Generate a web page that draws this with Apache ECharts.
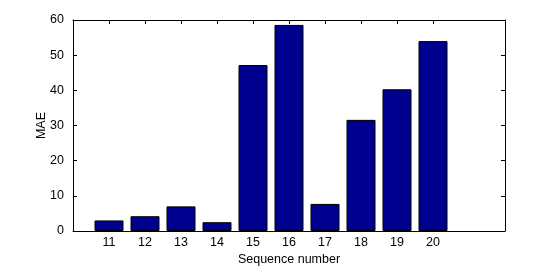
<!DOCTYPE html>
<html>
<head>
<meta charset="utf-8">
<script src="https://cdn.jsdelivr.net/npm/echarts@6/dist/echarts.min.js"></script>
<style>
  html, body { margin: 0; padding: 0; background: #fff; }
  #chart { width: 558px; height: 269px; }
</style>
</head>
<body>
<div id="chart"></div>
<script>
// sequence numbers on the x axis
const sequences = [11, 12, 13, 14, 15, 16, 17, 18, 19, 20];
// MAE per sequence
const maeValues = [3.0, 4.2, 7.0, 2.5, 47.2, 58.6, 7.7, 31.6, 40.3, 54.0];
const yTicks = [0, 10, 20, 30, 40, 50, 60];

const chart = echarts.init(document.getElementById('chart'), null, { renderer: 'canvas' });

const font = { fontFamily: 'Liberation Sans, Arial, sans-serif', fontSize: 12.5, color: '#000' };
const lineStyle = { color: '#000', width: 1 };

const option = {
  animation: false,
  grid: { left: 73, right: 53, top: 20, bottom: 38, outerBoundsMode: 'none', containLabel: false },
  xAxis: [
    {
      type: 'value',
      min: 10,
      max: 22,
      interval: 1,
      name: 'Sequence number',
      nameLocation: 'middle',
      nameGap: 22,
      nameMoveOverlap: false,
      nameTextStyle: font,
      axisLine: { show: true, onZero: false, lineStyle: lineStyle },
      axisTick: { show: true, inside: true, length: 4, lineStyle: lineStyle, customValues: sequences },
      axisLabel: Object.assign({ margin: 5, customValues: sequences }, font),
      splitLine: { show: false }
    },
    {
      type: 'value',
      position: 'top',
      min: 10,
      max: 22,
      interval: 1,
      axisLine: { show: true, onZero: false, lineStyle: lineStyle },
      axisTick: { show: true, inside: true, length: 4, lineStyle: lineStyle, customValues: sequences },
      axisLabel: { show: false },
      splitLine: { show: false }
    }
  ],
  yAxis: [
    {
      type: 'value',
      min: 0,
      max: 60,
      interval: 10,
      name: 'MAE',
      nameLocation: 'middle',
      nameGap: 25,
      nameMoveOverlap: false,
      nameTextStyle: font,
      axisLine: { show: true, lineStyle: lineStyle },
      axisTick: { show: true, inside: true, length: 4, lineStyle: lineStyle, customValues: yTicks },
      axisLabel: Object.assign({ margin: 9, customValues: yTicks }, font),
      splitLine: { show: false }
    },
    {
      type: 'value',
      position: 'right',
      min: 0,
      max: 60,
      interval: 10,
      axisLine: { show: true, lineStyle: lineStyle },
      axisTick: { show: true, inside: true, length: 4, lineStyle: lineStyle },
      axisLabel: { show: false },
      splitLine: { show: false }
    }
  ],
  series: [
    {
      type: 'bar',
      xAxisIndex: 0,
      yAxisIndex: 0,
      barWidth: 29,
      itemStyle: { color: '#00008F', borderColor: '#000', borderWidth: 1 },
      data: sequences.map((s, i) => [s, maeValues[i]])
    }
  ]
};

chart.setOption(option);
</script>
</body>
</html>
